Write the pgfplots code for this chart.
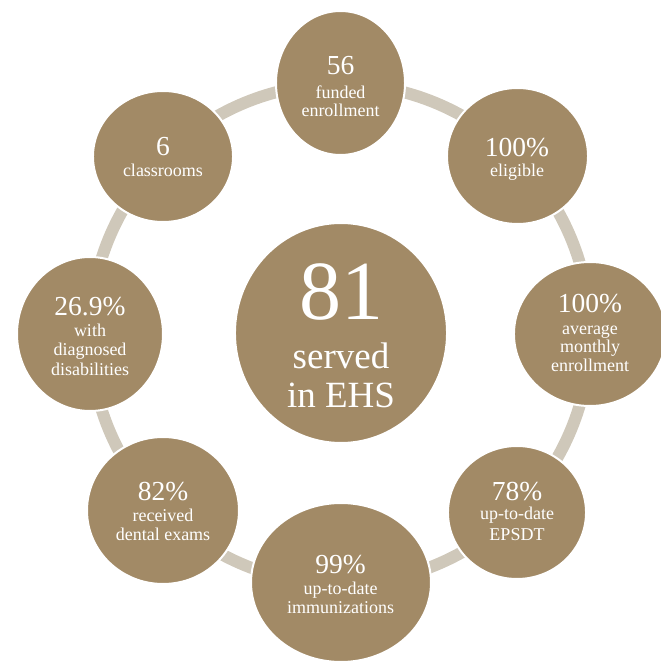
\documentclass[border=0pt]{standalone}
\usepackage{pgfplots}
\pgfplotsset{compat=1.18}
\usepackage{fontspec}
\setmainfont{Liberation Serif}
\definecolor{disc}{HTML}{A28A66}
\definecolor{ringc}{HTML}{CFC8BA}
\tikzset{
  num/.style={anchor=base, text=white, inner sep=0pt, font=\fontsize{27.5}{30}\selectfont},
  lab/.style={anchor=base, text=white, inner sep=0pt, font=\fontsize{18}{20}\selectfont}}
\pgfplotsset{disk/.style={only marks, mark=*, mark options={fill=disc, draw=white, line width=2pt, xscale=#1}}}
\begin{document}
\begin{tikzpicture}
\begin{axis}[name=ax, scale only axis, width=661pt, height=662pt,
  xmin=0, xmax=661, ymin=0, ymax=662, hide axis, clip=true, clip marker paths=true]
% connecting ring
\addplot[only marks, mark=o, mark size=250pt, mark options={draw=ringc, line width=12pt}] coordinates {(340,328)};
% satellite discs
\addplot[disk=0.896, mark size=72pt] coordinates {(340.5,579)};
\addplot[disk=1.037, mark size=68pt] coordinates {(517.5,506)};
\addplot[disk=1.056, mark size=72pt] coordinates {(590,328)};
\addplot[disk=1.038, mark size=66.5pt] coordinates {(517,149.5)};
\addplot[disk=1.132, mark size=79.5pt] coordinates {(341,79.5)};
\addplot[disk=1.034, mark size=73.5pt] coordinates {(163,151.5)};
\addplot[disk=0.948, mark size=77pt] coordinates {(90,328)};
\addplot[disk=1.069, mark size=65.5pt] coordinates {(163,505.5)};
% centre disc
\addplot[disk=0.964, mark size=110pt] coordinates {(341,329)};
% texts
\node[num] at (axis cs:340.5,587) {56};
\node[lab] at (axis cs:340.5,563) {funded};
\node[lab] at (axis cs:340.5,545) {enrollment};
\node[num] at (axis cs:517,505) {100\%};
\node[lab] at (axis cs:517,485) {eligible};
\node[num] at (axis cs:590,349) {100\%};
\node[lab] at (axis cs:590,327) {average};
\node[lab] at (axis cs:590,309) {monthly};
\node[lab] at (axis cs:590,290) {enrollment};
\node[num] at (axis cs:517,161) {78\%};
\node[lab] at (axis cs:517,142) {up-to-date};
\node[lab] at (axis cs:517,121) {EPSDT};
\node[num] at (axis cs:340.5,88) {99\%};
\node[lab] at (axis cs:340.5,67) {up-to-date};
\node[lab] at (axis cs:340.5,48) {immunizations};
\node[num] at (axis cs:163,161) {82\%};
\node[lab] at (axis cs:163,140) {received};
\node[lab] at (axis cs:163,121) {dental exams};
\node[num] at (axis cs:90,346) {26.9\%};
\node[lab] at (axis cs:90,325) {with};
\node[lab] at (axis cs:90,306) {diagnosed};
\node[lab] at (axis cs:90,286) {disabilities};
\node[num] at (axis cs:163,506) {6};
\node[lab] at (axis cs:163,485) {classrooms};
\node[anchor=base, text=white, inner sep=0pt, font=\fontsize{84}{90}\selectfont] at (axis cs:341,342) {81};
\node[anchor=base, text=white, inner sep=0pt, font=\fontsize{37}{40}\selectfont] at (axis cs:341,293) {served};
\node[anchor=base, text=white, inner sep=0pt, font=\fontsize{37}{40}\selectfont] at (axis cs:341,254) {in EHS};
\end{axis}
\pgfresetboundingbox
\useasboundingbox (ax.south west) rectangle (ax.north east);
\end{tikzpicture}
\end{document}
